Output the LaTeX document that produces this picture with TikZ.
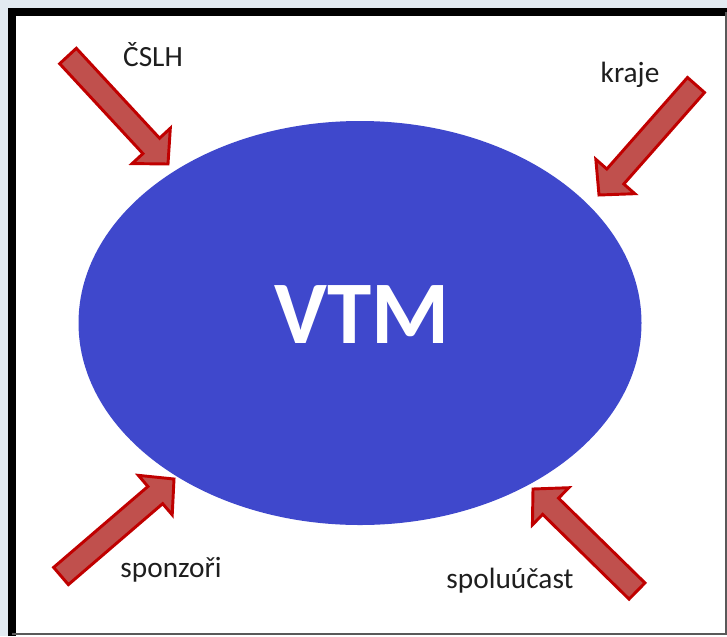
\documentclass[tikz,border=0pt]{standalone}
\usepackage{fontspec}
\setmainfont{Carlito}
\usetikzlibrary{calc,shapes.geometric}
\definecolor{slidebg}{HTML}{E2EAF1}
\definecolor{ovalblue}{HTML}{3F48CC}
\definecolor{arrowfill}{HTML}{C0504D}
\definecolor{arrowline}{HTML}{C00000}
\definecolor{labelgray}{HTML}{1E1E1E}
\tikzset{
  blockarrow/.style={fill=arrowfill, draw=arrowline, line width=2.2pt, line join=miter},
  lbl/.style={text=labelgray, font=\fontsize{22}{26}\selectfont, inner sep=0pt, anchor=center},
  frameline/.style={draw=black, line width=6pt}
}
% block arrow from tail centre #1 to tip #2
\newcommand\drawblockarrow[2]{%
  \coordinate (hb) at ($(#2)!18.5pt!(#1)$);
  \draw[blockarrow]
    ($(#1)!8.5pt!90:(#2)$) -- ($(hb)!8.5pt!90:(#2)$) -- ($(hb)!19.5pt!90:(#2)$)
    -- (#2) -- ($(hb)!19.5pt!-90:(#2)$) -- ($(hb)!8.5pt!-90:(#2)$)
    -- ($(#1)!8.5pt!-90:(#2)$) -- cycle;
}
\begin{document}
\begin{tikzpicture}[x=0.75pt,y=-0.75pt]
  \useasboundingbox (0,0) rectangle (727,636);
  % slide background and framed white panel
  \fill[slidebg] (0,0) rectangle (727,636);
  \fill[white] (12,12) rectangle (727,636);
  \draw[frameline] (12,636) -- (12,12) -- (727,12);
  \draw[gray!70!black, line width=1.5pt] (726,12) -- (726,634) -- (12,634);

  % central oval
  \node[ellipse, fill=ovalblue, minimum width=563*0.75pt, minimum height=404*0.75pt,
        inner sep=0pt, draw=none] (vtm) at (360,323) {};
  \node[text=white, font=\fontsize{67}{70}\selectfont\bfseries, inner sep=0pt] (vtmlbl) at (362,315) {VTM};

  % arrow ends
  \coordinate (t1) at (68,56);   \coordinate (p1) at (168,164);
  \coordinate (t2) at (696,85);  \coordinate (p2) at (599,195);
  \coordinate (t3) at (61,576);  \coordinate (p3) at (174,479);
  \coordinate (t4) at (637,591); \coordinate (p4) at (533,489);

  \drawblockarrow{t1}{p1}
  \drawblockarrow{t2}{p2}
  \drawblockarrow{t3}{p3}
  \drawblockarrow{t4}{p4}

  % labels
  \node[lbl] (cslh) at (153,55) {ČSLH};
  \node[lbl] (kraje) at (630,75) {kraje};
  \node[lbl] (sponzori) at (171,570) {sponzoři};
  \node[lbl] (spoluucast) at (510,581) {spoluúčast};
\end{tikzpicture}
\end{document}
